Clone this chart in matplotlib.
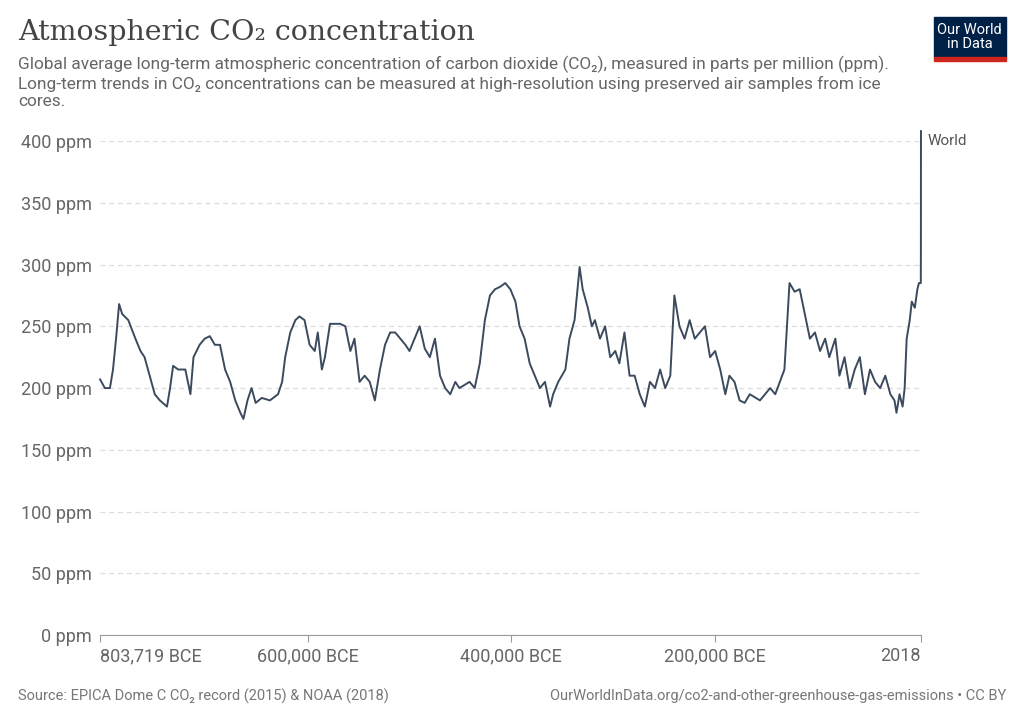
import matplotlib.pyplot as plt
from matplotlib.patches import Rectangle

# year in thousands (negative = BCE), CO2 in ppm
year_k = [-803.7, -799, -794, -791, -788, -785, -782, -776, -769, -764, -760, -755, -750, -745, -738,
          -735, -732, -727, -720, -715, -712, -706, -701, -696, -691, -686, -681, -676, -671, -666,
          -663, -659, -655, -651, -645, -637, -629, -625, -622, -617, -612, -608, -603, -598, -593,
          -590, -586, -583, -578, -568, -563, -558, -554, -549, -544, -539, -534, -529, -524, -519,
          -514, -509, -504, -500, -495, -490, -485, -480, -475, -470, -465, -460, -455, -451, -441,
          -436, -431, -426, -421, -416, -411, -406, -401, -396, -392, -387, -382, -377, -372, -367,
          -362, -359, -354, -347, -343, -338, -333, -330, -325, -321, -318, -313, -308, -303, -298,
          -294, -289, -284, -279, -274, -269, -264, -259, -254, -249, -244, -240, -235, -230, -225,
          -220, -215, -210, -205, -200, -195, -190, -186, -181, -176, -171, -166, -156, -146, -141,
          -132, -127, -122, -117, -112, -107, -102, -97, -92, -88, -82, -78, -73, -68, -63,
          -58, -53, -48, -43, -38, -33, -28, -24, -22, -19, -16, -14, -12, -9, -7,
          -4, -1.5, 0.0, 1.85, 1.95, 2.018]
co2 = [207, 200, 200, 215, 240, 268, 260, 255, 240, 230, 225, 210, 195, 190, 185,
       200, 218, 215, 215, 195, 225, 235, 240, 242, 235, 235, 215, 205, 190, 180,
       175, 190, 200, 188, 192, 190, 195, 205, 225, 245, 255, 258, 255, 235, 230,
       245, 215, 225, 252, 252, 250, 230, 240, 205, 210, 205, 190, 215, 235, 245,
       245, 240, 235, 230, 240, 250, 232, 225, 240, 210, 200, 195, 205, 200, 205,
       200, 220, 255, 275, 280, 282, 285, 280, 270, 250, 240, 220, 210, 200, 205,
       185, 195, 205, 215, 240, 255, 298, 280, 265, 250, 255, 240, 250, 225, 230,
       220, 245, 210, 210, 195, 185, 205, 200, 215, 200, 210, 275, 250, 240, 255,
       240, 245, 250, 225, 230, 215, 195, 210, 205, 190, 188, 195, 190, 200, 195,
       215, 285, 278, 280, 260, 240, 245, 230, 240, 225, 240, 210, 225, 200, 215,
       225, 195, 215, 205, 200, 210, 195, 190, 180, 195, 185, 200, 240, 255, 270,
       265, 280, 285, 285, 311, 408]

tick_years = [-803719, -600000, -400000, -200000, 2018]
tick_labels = ['803,719 BCE', '600,000 BCE', '400,000 BCE', '200,000 BCE', '2018']
y_ticks = [0, 50, 100, 150, 200, 250, 300, 350, 400]

plt.rcParams['font.family'] = ['Roboto', 'DejaVu Sans']
fig = plt.figure(figsize=(10.25, 7.25), dpi=100)
ax = fig.add_axes([0.0976, 0.124, 0.8009, 0.6815])

years = [y * 1000 for y in year_k]
ax.plot(years, co2, color='#3c4a5e', lw=1.4, clip_on=False)
ax.set_xlim(-803719, 2018)
ax.set_ylim(0, 400)
ax.set_yticks(y_ticks)
ax.set_yticklabels([f'{v} ppm' for v in y_ticks])
ax.set_xticks(tick_years)
ax.set_xticklabels(tick_labels)
xl = ax.get_xticklabels()
xl[0].set_ha('left')
xl[-1].set_ha('right')
ax.grid(axis='y', color='#dddddd', ls=(0, (4, 3)), lw=0.9)
for s in ['top', 'right', 'left']:
    ax.spines[s].set_visible(False)
ax.spines['bottom'].set_color('#999999')
ax.tick_params(axis='y', length=0, labelsize=13, colors='#666666', pad=6)
ax.tick_params(axis='x', length=5, color='#999999', labelsize=13, colors='#666666')
ax.text(1.008, 400, 'World', transform=ax.get_yaxis_transform(), fontsize=11,
        color='#555555', va='center')

fig.text(0.018, 0.955, 'Atmospheric CO₂ concentration', family='DejaVu Serif',
         fontsize=20.5, color='#444444', va='center')
fig.text(0.018, 0.923, 'Global average long-term atmospheric concentration of carbon dioxide (CO₂), measured in parts per million (ppm).\n'
         'Long-term trends in CO₂ concentrations can be measured at high-resolution using preserved air samples from ice\ncores.',
         fontsize=12.4, color='#666666', va='top', linespacing=1.2)
fig.text(0.018, 0.04, 'Source: EPICA Dome C CO₂ record (2015) & NOAA (2018)', fontsize=10.5, color='#777777', va='center')
fig.text(0.982, 0.04, 'OurWorldInData.org/co2-and-other-greenhouse-gas-emissions • CC BY', fontsize=10.5,
         color='#777777', va='center', ha='right')

fig.patches.append(Rectangle((0.911, 0.921), 0.07, 0.056, transform=fig.transFigure, color='#002147'))
fig.patches.append(Rectangle((0.911, 0.916), 0.07, 0.006, transform=fig.transFigure, color='#ce261e'))
fig.text(0.946, 0.949, 'Our World\nin Data', ha='center', va='center', fontsize=10.5, color='white', linespacing=1.0)

fig.savefig('out.png')
